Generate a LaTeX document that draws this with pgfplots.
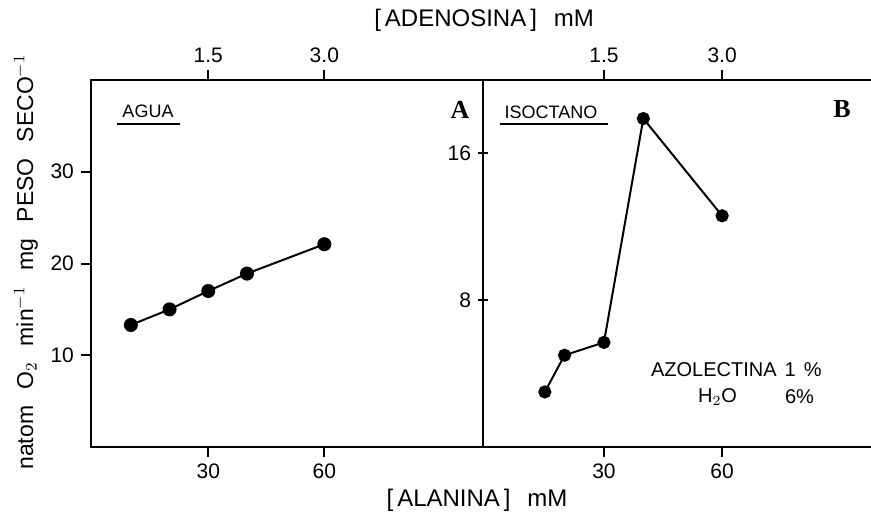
\documentclass[border=0pt]{standalone}
\usepackage{pgfplots}
\pgfplotsset{compat=1.18}
\usepackage{fontspec}
\setmainfont{Liberation Sans}
\newfontfamily\letra{Liberation Serif}

\pgfplotsset{
  panel/.style={
    scale only axis,
    anchor=south west,
    height=183.5pt,
    axis line style={line width=1.4pt},
    every tick/.style={black, line width=1pt},
    major tick length=5pt,
    tick align=outside,
    tick label style={font=\fontsize{10.5}{11}\selectfont},
    /pgf/number format/assume math mode=true,
    clip=false,
  },
  serie/.style={black, line width=1pt, mark=*, mark options={fill=black}},
}

\begin{document}
\begin{tikzpicture}
\path[use as bounding box] (0,0) rectangle (435.5pt,259.5pt);

% panel A: agua
\begin{axis}[panel, at={(45.5pt,36pt)}, width=196pt,
    xmin=-0.3, xmax=101, ymin=0, ymax=40,
    xtick={30,60}, xtick pos=bottom,
    ytick={10,20,30}, ytick pos=left]
  \addplot[serie, mark size=3pt] coordinates {
    (10,13.3) (20,15.0) (30,17.0) (40,18.9) (60,22.1)};
\end{axis}
\begin{axis}[panel, at={(45.5pt,36pt)}, width=196pt,
    xmin=-0.015, xmax=5.05, ymin=0, ymax=1,
    axis x line*=top, axis y line=none,
    xtick={1.5,3.0}, xticklabels={1.5,3.0}]
\end{axis}

% panel B: isoctano
\begin{axis}[panel, at={(241.5pt,36pt)}, width=194pt,
    xmin=-0.7, xmax=97.8, ymin=0, ymax=20,
    axis x line*=box, axis y line*=left, axis line style={-},
    xtick={30,60}, xtick pos=bottom,
    ytick={8,16}, ytick pos=left,
    every y tick/.style={black, line width=1pt},
    ytick align=center]
  \addplot[serie, mark size=2.8pt] coordinates {
    (15,3.0) (20,5.0) (30,5.7) (40,17.9) (60,12.6)};
\end{axis}
\begin{axis}[panel, at={(241.5pt,36pt)}, width=194pt,
    xmin=-0.035, xmax=4.89, ymin=0, ymax=1,
    axis x line*=top, axis y line=none, axis line style={-},
    xtick={1.5,3.0}, xticklabels={1.5,3.0}]
\end{axis}

% titles and labels
\node[font=\fontsize{12}{12}\selectfont] at (242pt,249.5pt)
  {[\,ADENOSINA\,]\hspace{0.7em}mM};
\node[font=\fontsize{12}{12}\selectfont] at (238.5pt,9.5pt)
  {[\,ALANINA\,]\hspace{0.7em}mM};
\node[font=\fontsize{11.5}{12}\selectfont, rotate=90] at (13pt,128.5pt)
  {natom\hspace{0.7em}O$_2$\hspace{0.7em}min$^{-1}$\hspace{0.7em}mg\hspace{0.7em}PESO\hspace{0.7em}SECO$^{-1}$};

\node[font=\fontsize{9}{9}\selectfont] at (74pt,204pt) {AGUA};
\draw[line width=0.9pt] (58.5pt,197.5pt) -- (90pt,197.5pt);
\node[font=\fontsize{9}{9}\selectfont] at (275.5pt,203.5pt) {ISOCTANO};
\draw[line width=0.9pt] (250pt,197.5pt) -- (304pt,197.5pt);
\node[font=\letra\bfseries\fontsize{13}{13}\selectfont] at (230pt,204.5pt) {A};
\node[font=\letra\bfseries\fontsize{13}{13}\selectfont] at (421pt,205pt) {B};

\node[font=\fontsize{10}{10}\selectfont, anchor=west] at (322pt,74.5pt)
  {AZOLECTINA\hspace{0.4em}1\hspace{0.4em}\%};
\node[font=\fontsize{10}{10}\selectfont, anchor=west] at (345.5pt,61pt)
  {H$_2$O};
\node[font=\fontsize{10}{10}\selectfont, anchor=west] at (389pt,61pt)
  {6\%};
\end{tikzpicture}
\end{document}
